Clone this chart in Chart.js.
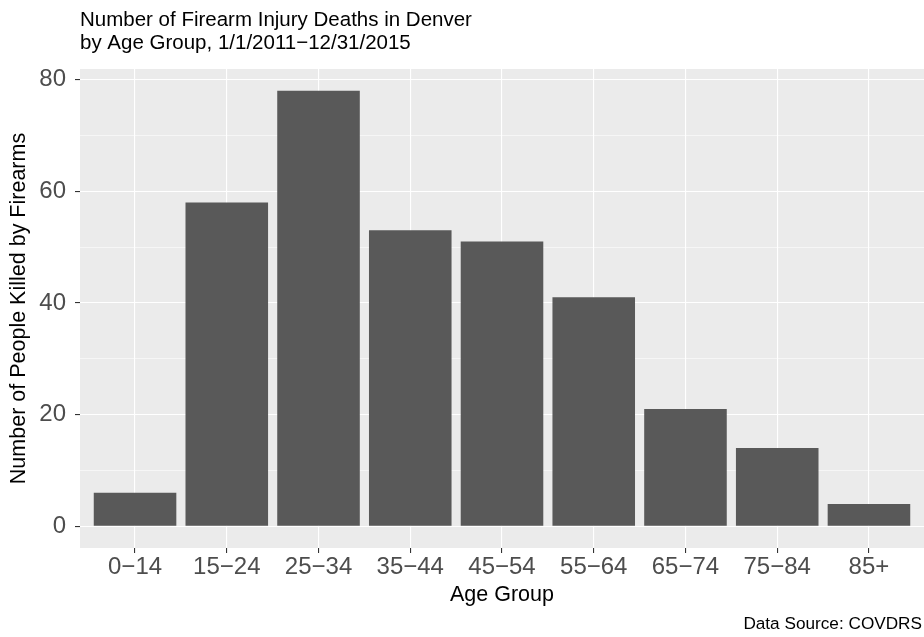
<!DOCTYPE html>
<html>
<head>
<meta charset="utf-8">
<script src="https://cdn.jsdelivr.net/npm/chart.js@4"></script>
<style>
  html, body { margin: 0; padding: 0; background: #ffffff; }
  #wrap { width: 924px; height: 637px; position: relative; }
</style>
</head>
<body>
<div id="wrap"><canvas id="deaths-chart"></canvas></div>
<script>
/* ---- data ---- */
var AGE_GROUPS = ['0\u221214', '15\u221224', '25\u221234', '35\u221244', '45\u221254', '55\u221264', '65\u221274', '75\u221284', '85+'];
var DEATHS     = [6, 58, 78, 53, 51, 41, 21, 14, 4];
var Y_GRID     = [0, 10, 20, 30, 40, 50, 60, 70, 80];
var Y_LABELED  = [0, 20, 40, 60, 80];

var TITLE_LINES = ['Number of Firearm Injury Deaths in Denver', 'by Age Group, 1/1/2011\u221212/31/2015'];
var CAPTION     = 'Data Source: COVDRS';
var X_TITLE     = 'Age Group';
var Y_TITLE     = 'Number of People Killed by Firearms';

var FONT = '"Liberation Sans", Arial, Helvetica, sans-serif';

function isMajor(v) { return Y_LABELED.indexOf(v) !== -1; }

// title (left aligned with the panel) and caption (bottom right)
var textPlugin = {
    id: 'ggText',
    afterDraw: function(chart) {
        var ctx  = chart.ctx;
        var area = chart.chartArea;
        ctx.save();
        ctx.fillStyle = '#000000';
        ctx.textBaseline = 'alphabetic';
        ctx.textAlign = 'left';
        ctx.font = '20.5px ' + FONT;
        ctx.fillText(TITLE_LINES[0], area.left, 26);
        ctx.fillText(TITLE_LINES[1], area.left, 49);
        ctx.textAlign = 'right';
        ctx.font = '17.2px ' + FONT;
        ctx.fillText(CAPTION, chart.width - 2, 629);
        ctx.restore();
    }
};

var panelBg = {
    id: 'panelBg',
    beforeDraw: function(chart) {
        var a = chart.chartArea;
        chart.ctx.save();
        chart.ctx.fillStyle = '#EBEBEB';
        chart.ctx.fillRect(a.left, a.top, a.right - a.left, a.bottom - a.top);
        chart.ctx.restore();
    }
};

new Chart(document.getElementById('deaths-chart'), {
    type: 'bar',
    data: {
        datasets: [{
            data: DEATHS.map(function(v, i) { return { x: i + 1, y: v }; }),
            backgroundColor: '#595959',
            borderWidth: 0,
            barPercentage: 0.9,
            categoryPercentage: 1.0
        }]
    },
    options: {
        responsive: true,
        maintainAspectRatio: false,
        animation: false,
        layout: { padding: { top: 69, right: 0, bottom: 29, left: 0 } },
        plugins: {
            legend: { display: false },
            tooltip: { enabled: false }
        },
        scales: {
            x: {
                type: 'linear',
                offset: false,
                min: 0.4,
                max: 9.6,
                afterBuildTicks: function(axis) {
                    axis.ticks = AGE_GROUPS.map(function(g, i) { return { value: i + 1 }; });
                },
                afterFit: function(axis) { axis.height = 60; },
                border: { display: false },
                grid: {
                    offset: false,
                    color: '#FFFFFF',
                    lineWidth: 1.1,
                    drawTicks: true,
                    tickLength: 5,
                    tickColor: '#333333',
                    tickWidth: 1.1
                },
                ticks: {
                    color: '#4D4D4D',
                    font: { family: FONT, size: 24 },
                    padding: 0,
                    maxRotation: 0,
                    autoSkip: false,
                    callback: function(v) { return AGE_GROUPS[v - 1]; }
                },
                title: {
                    display: true,
                    text: X_TITLE,
                    color: '#000000',
                    font: { family: FONT, size: 21.5 },
                    padding: { top: 0, bottom: 0 }
                }
            },
            y: {
                min: -3.9,
                max: 81.9,
                afterBuildTicks: function(axis) {
                    axis.ticks = Y_GRID.map(function(v) { return { value: v }; });
                },
                afterFit: function(axis) { axis.width = 80; },
                border: { display: false },
                grid: {
                    color: '#FFFFFF',
                    lineWidth: function(c) { return c.tick && isMajor(c.tick.value) ? 1.1 : 0.55; },
                    drawTicks: true,
                    tickLength: 5,
                    tickColor: function(c) { return c.tick && isMajor(c.tick.value) ? '#333333' : 'rgba(0,0,0,0)'; },
                    tickWidth: 1.1
                },
                ticks: {
                    color: '#4D4D4D',
                    font: { family: FONT, size: 24 },
                    padding: 9,
                    autoSkip: false,
                    callback: function(v) { return isMajor(v) ? String(v) : ''; }
                },
                title: {
                    display: true,
                    text: Y_TITLE,
                    color: '#000000',
                    font: { family: FONT, size: 21.5 },
                    padding: { top: 6, bottom: 0 }
                }
            }
        }
    },
    plugins: [panelBg, textPlugin]
});
</script>
</body>
</html>
